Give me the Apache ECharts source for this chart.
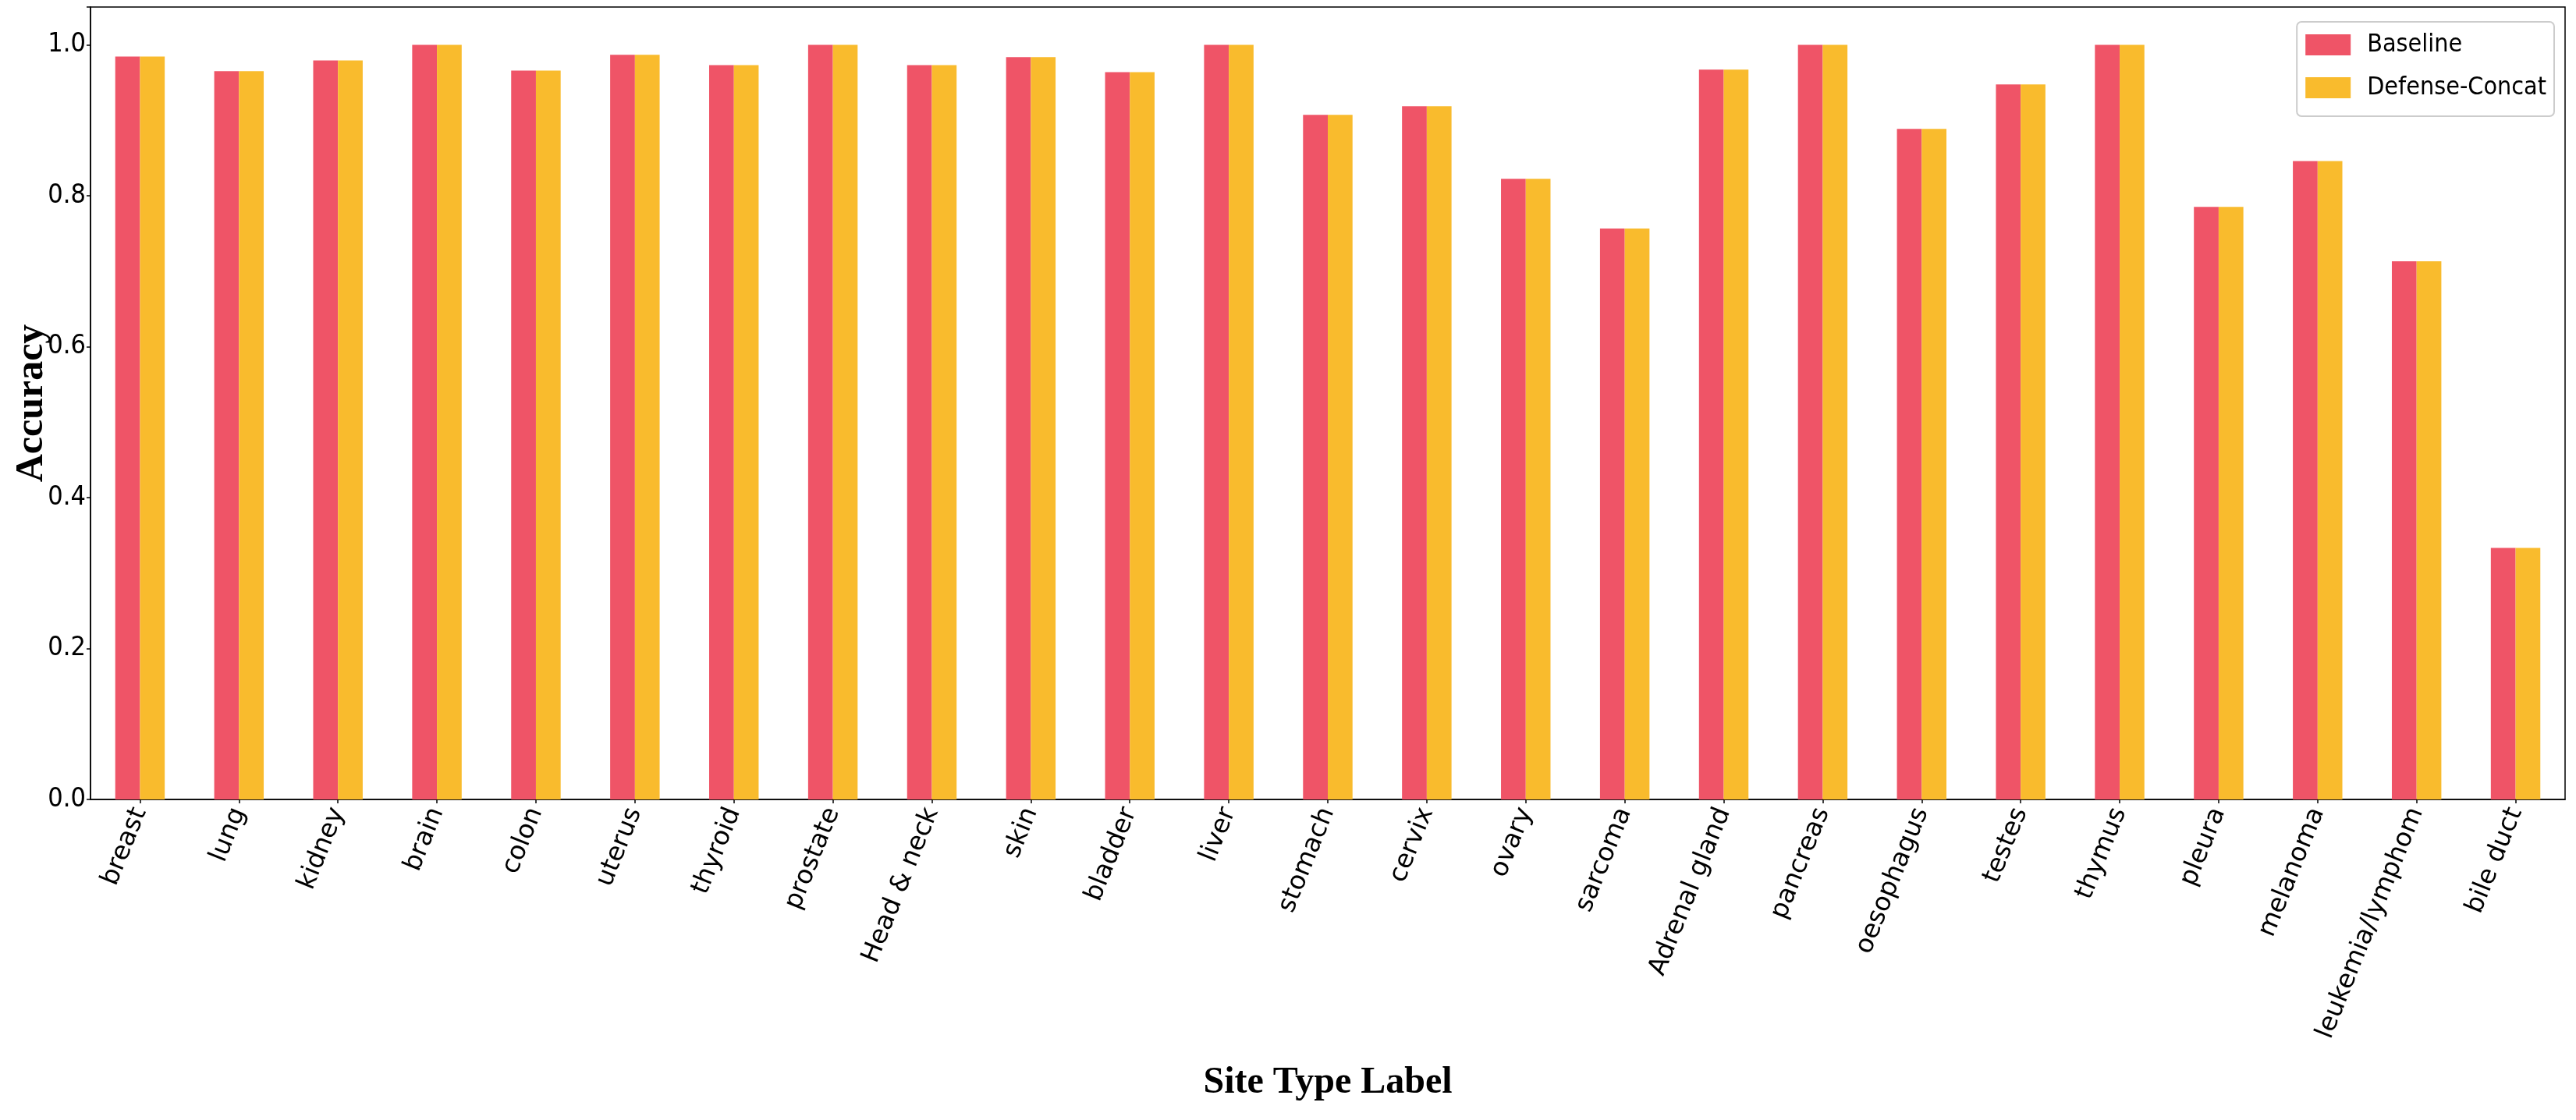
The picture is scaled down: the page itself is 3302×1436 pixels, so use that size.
<!DOCTYPE html>
<html>
<head>
<meta charset="utf-8">
<script src="https://cdn.jsdelivr.net/npm/echarts@6/dist/echarts.min.js"></script>
<style>
html,body{margin:0;padding:0;background:#fff;}
#chart{width:3302px;height:1436px;}
</style>
</head>
<body>
<div id="chart"></div>
<script>
const categories = ['breast','lung','kidney','brain','colon','uterus','thyroid','prostate','Head & neck','skin','bladder','liver','stomach','cervix','ovary','sarcoma','Adrenal gland','pancreas','oesophagus','testes','thymus','pleura','melanoma','leukemia/lymphom','bile duct'];
const baseline = [0.9845,0.9649,0.9793,1.0,0.9659,0.9866,0.9731,1.0,0.9731,0.9835,0.9638,1.0,0.907,0.9184,0.8223,0.7565,0.967,1.0,0.8884,0.9473,1.0,0.7851,0.846,0.713,0.3333];
const defenseConcat = [0.9845,0.9649,0.9793,1.0,0.9659,0.9866,0.9731,1.0,0.9731,0.9835,0.9638,1.0,0.907,0.9184,0.8223,0.7565,0.967,1.0,0.8884,0.9473,1.0,0.7851,0.846,0.713,0.3333];
const yTicks = [0.0,0.2,0.4,0.6,0.8,1.0];

const chart = echarts.init(document.getElementById('chart'), null, {renderer:'canvas'});
const narrow = "'Liberation Sans Narrow','DejaVu Sans Condensed',sans-serif";
chart.setOption({
  backgroundColor:'#ffffff',
  animation:false,
  grid:{left:116,right:14,top:9,bottom:411,show:true,borderColor:'#000',borderWidth:1.5,containLabel:false},
  legend:{
    orient:'vertical', right:28, top:28,
    padding:[12,10,19,11], itemGap:20,
    itemWidth:58, itemHeight:27, icon:'rect',
    backgroundColor:'#fff', borderColor:'#cccccc', borderWidth:2, borderRadius:6,
    textStyle:{fontFamily:narrow, fontSize:32, color:'#000', lineHeight:35, padding:[0,0,0,16]},
    data:['Baseline','Defense-Concat']
  },
  xAxis:{
    type:'category', data:categories, boundaryGap:true,
    name:'Site Type Label', nameLocation:'middle', nameGap:340,
    nameTextStyle:{fontFamily:"'Liberation Serif','Times New Roman',serif", fontWeight:'bold', fontSize:48, color:'#000'},
    axisLine:{show:true, lineStyle:{color:'#000', width:1.5}},
    axisTick:{show:true, alignWithLabel:true, length:5, lineStyle:{color:'#000', width:1.5}},
    axisLabel:{interval:0, rotate:68, margin:12, fontFamily:"'DejaVu Sans',sans-serif", fontSize:33, color:'#000'},
    splitLine:{show:false}
  },
  yAxis:{
    type:'value', min:0, max:1.05, interval:0.2,
    name:'Accuracy', nameLocation:'middle', nameGap:50, nameRotate:90, nameMoveOverlap:false,
    nameTextStyle:{fontFamily:"'Liberation Serif','Times New Roman',serif", fontWeight:'bold', fontSize:50, color:'#000'},
    axisLine:{show:true, lineStyle:{color:'#000', width:1.5}},
    axisTick:{show:true, length:5, lineStyle:{color:'#000', width:1.5}},
    axisLabel:{margin:6, fontFamily:narrow, fontSize:34, color:'#000',
      formatter:function(v){ for (const t of yTicks){ if (Math.abs(v-t)<1e-6) return t.toFixed(1);} return ''; }},
    splitLine:{show:false}
  },
  series:[
    {name:'Baseline', type:'bar', data:baseline, barWidth:'25%', barGap:'0%', itemStyle:{color:'#EF5467'}},
    {name:'Defense-Concat', type:'bar', data:defenseConcat, barWidth:'25%', barGap:'0%', itemStyle:{color:'#F9BB2D'}}
  ]
});
</script>
</body>
</html>
